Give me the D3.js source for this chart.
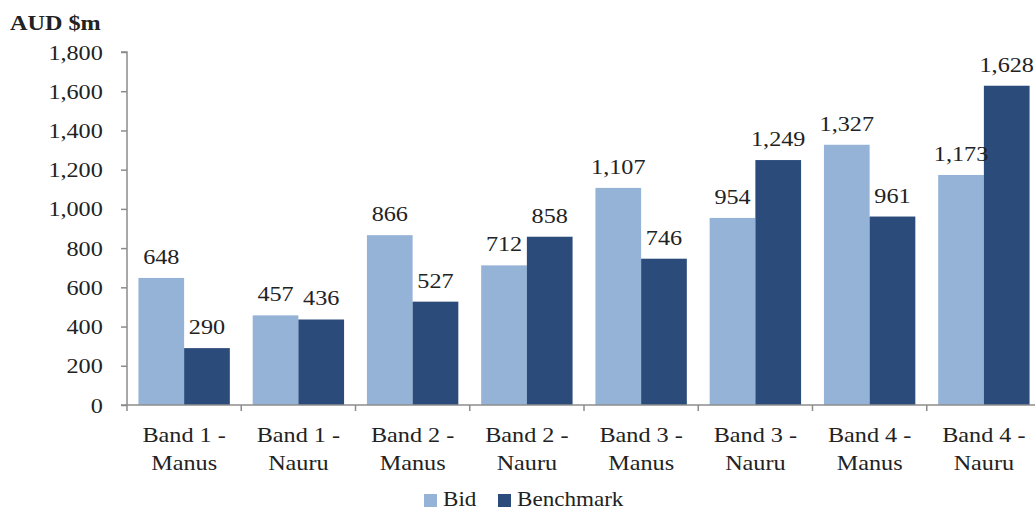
<!DOCTYPE html>
<html>
<head>
<meta charset="utf-8">
<script src="https://cdn.jsdelivr.net/npm/d3@7"></script>
<style>
  html, body { margin: 0; padding: 0; background: #fff; }
  svg { display: block; }
  svg text { font-family: "Liberation Serif", "DejaVu Serif", serif; }
</style>
</head>
<body>
<svg id="chart" width="1035" height="511"></svg>
<script>
// Bid vs benchmark cost by band and location (AUD $m)
const categories = [
  ["Band 1 -", "Manus"], ["Band 1 -", "Nauru"],
  ["Band 2 -", "Manus"], ["Band 2 -", "Nauru"],
  ["Band 3 -", "Manus"], ["Band 3 -", "Nauru"],
  ["Band 4 -", "Manus"], ["Band 4 -", "Nauru"]
];
const bidValues = [648, 457, 866, 712, 1107, 954, 1327, 1173];
const benchmarkValues = [290, 436, 527, 858, 746, 1249, 961, 1628];
const seriesNames = ["Bid", "Benchmark"];
const yTicks = [0, 200, 400, 600, 800, 1000, 1200, 1400, 1600, 1800];

const colors = { Bid: "#95b3d7", Benchmark: "#2b4b7b" };
const axisColor = "#8c8c8c";
const textColor = "#222222";
const serif = "Liberation Serif, DejaVu Serif, serif";
const fontSize = 22;
const stretch = 1.1; // slightly wide lettering

const svg = d3.select("#chart");
const plotLeft = 127, plotRight = 1041, plotTop = 52, plotBottom = 405;

const keys = categories.map((c, i) => i);
const x0 = d3.scaleBand().domain(keys).range([plotLeft, plotRight]).paddingInner(0.2).paddingOuter(0.1);
const x1 = d3.scaleBand().domain(seriesNames).range([0, x0.bandwidth()]);
const y = d3.scaleLinear().domain([0, 1800]).range([plotBottom, plotTop]);
const fmt = d3.format(",");

const rows = keys.map(i => ({ i, Bid: bidValues[i], Benchmark: benchmarkValues[i] }));

function place(sel, fx, fy) {
  return sel.attr("transform", d => `translate(${fx(d)},${fy(d)}) scale(${stretch},1)`);
}

// Bars
const groups = svg.append("g").selectAll("g").data(rows).join("g")
  .attr("transform", d => `translate(${x0(d.i)},0)`);
groups.selectAll("rect").data(d => seriesNames.map(k => ({ k, v: d[k] }))).join("rect")
  .attr("x", d => x1(d.k))
  .attr("width", x1.bandwidth())
  .attr("y", d => y(d.v))
  .attr("height", d => y(0) - y(d.v))
  .attr("fill", d => colors[d.k]);

// Value labels
place(groups.selectAll("text").data(d => seriesNames.map(k => ({ k, v: d[k] }))).join("text"),
      d => x1(d.k) + x1.bandwidth() / 2, d => y(d.v) - 14)
  .attr("text-anchor", "middle")
  .attr("font-family", serif)
  .attr("font-size", fontSize)
  .attr("fill", textColor)
  .text(d => fmt(d.v));

// Y axis
const yAxis = svg.append("g").attr("transform", `translate(${plotLeft},0)`)
  .call(d3.axisLeft(y).tickValues(yTicks).tickFormat(fmt).tickSize(6).tickPadding(16))
  .attr("font-family", serif);
yAxis.select(".domain").attr("stroke", axisColor).attr("stroke-width", 1.5).attr("d", `M-6,${plotTop}H0V${plotBottom}`);
yAxis.selectAll(".tick line").attr("stroke", axisColor).attr("stroke-width", 1.5);
yAxis.selectAll(".tick text").attr("font-size", fontSize).attr("fill", textColor).attr("font-family", serif)
  .attr("transform", `scale(${stretch},1)`);

// X axis with boundary ticks between categories
const boundaries = d3.range(categories.length + 1).map(i => plotLeft + i * x0.step());
const xAxis = svg.append("g");
xAxis.append("line").attr("x1", plotLeft - 6).attr("x2", plotRight).attr("y1", plotBottom).attr("y2", plotBottom)
  .attr("stroke", axisColor).attr("stroke-width", 1.5);
xAxis.selectAll("line.tk").data(boundaries).join("line").attr("class", "tk")
  .attr("x1", d => d).attr("x2", d => d).attr("y1", plotBottom).attr("y2", plotBottom + 6)
  .attr("stroke", axisColor).attr("stroke-width", 1.5);
const catLabels = place(xAxis.selectAll("text").data(rows).join("text"),
      d => x0(d.i) + x0.bandwidth() / 2, () => 442)
  .attr("text-anchor", "middle")
  .attr("font-family", serif)
  .attr("font-size", fontSize)
  .attr("fill", textColor);
catLabels.append("tspan").attr("x", 0).attr("y", 0).text(d => categories[d.i][0]);
catLabels.append("tspan").attr("x", 0).attr("y", 28).text(d => categories[d.i][1]);

// Axis unit title
svg.append("text").attr("transform", `translate(10,30) scale(${stretch},1)`)
  .attr("font-family", serif).attr("font-size", fontSize).attr("font-weight", "bold")
  .attr("fill", textColor).text("AUD $m");

// Legend
const legend = svg.append("g");
const legendItems = [{ k: "Bid", x: 424 }, { k: "Benchmark", x: 498 }];
legendItems.forEach(it => {
  legend.append("rect").attr("x", it.x).attr("y", 494).attr("width", 13).attr("height", 13).attr("fill", colors[it.k]);
  legend.append("text").attr("transform", `translate(${it.x + 19},506) scale(${stretch},1)`)
    .attr("font-family", serif).attr("font-size", 21).attr("fill", textColor).text(it.k);
});
</script>
</body>
</html>
